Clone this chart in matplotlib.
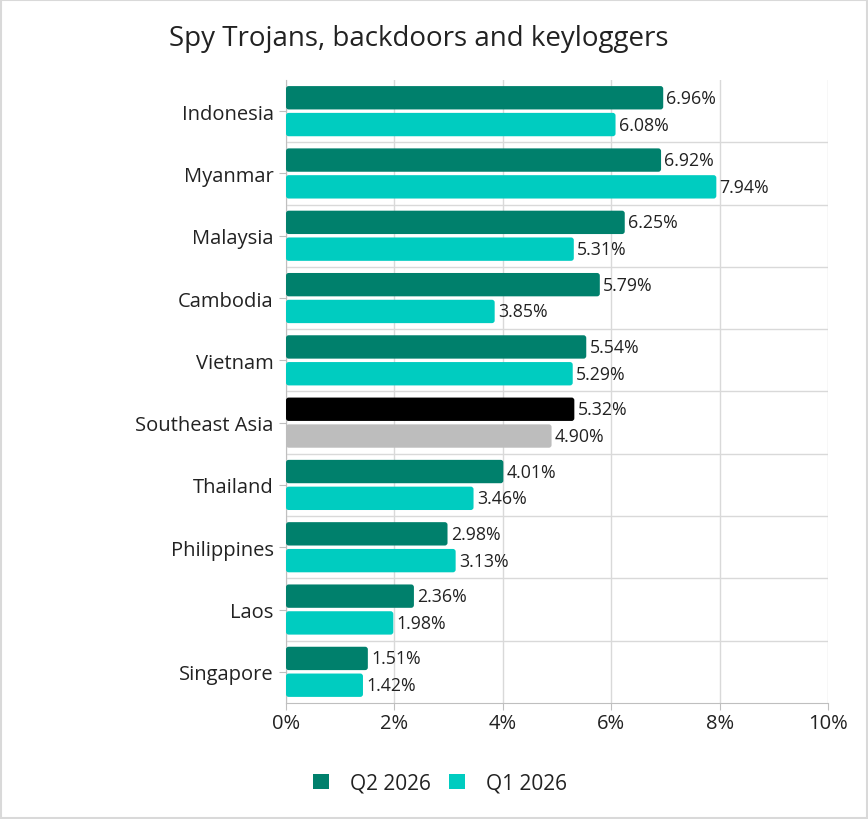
import matplotlib
matplotlib.use("Agg")
import matplotlib.pyplot as plt
from matplotlib.patches import FancyBboxPatch, Patch
import numpy as np

categories = ["Indonesia", "Myanmar", "Malaysia", "Cambodia", "Vietnam",
              "Southeast Asia", "Thailand", "Philippines", "Laos", "Singapore"]
q2_2026 = [6.96, 6.92, 6.25, 5.79, 5.54, 5.32, 4.01, 2.98, 2.36, 1.51]
q1_2026 = [6.08, 7.94, 5.31, 3.85, 5.29, 4.90, 3.46, 3.13, 1.98, 1.42]
series_names = ["Q2 2026", "Q1 2026"]
x_ticks = [0, 2, 4, 6, 8, 10]

C_Q2 = "#00806C"
C_Q1 = "#00CCC0"
C_SEA_Q2 = "#000000"
C_SEA_Q1 = "#BDBDBD"
TXT = "#222222"
GRID = "#D9D9D9"

plt.rcParams['font.family'] = ['Open Sans', 'DejaVu Sans']

fig = plt.figure(figsize=(8.68, 8.2), dpi=100)
ax = fig.add_axes([0.3295, 0.1415, 0.6244, 0.7597])

n = len(categories)
y = np.arange(n)
h = 0.375
off = 0.215

c2 = [C_SEA_Q2 if c == "Southeast Asia" else C_Q2 for c in categories]
c1 = [C_SEA_Q1 if c == "Southeast Asia" else C_Q1 for c in categories]

b2 = ax.barh(y - off, q2_2026, height=h, color=c2, label=series_names[0], zorder=3)
b1 = ax.barh(y + off, q1_2026, height=h, color=c1, label=series_names[1], zorder=3)

ax.set_xlim(0, 10)
ax.set_ylim(n - 0.5, -0.5)

def round_bars(bars):
    for r in bars:
        x0, y0 = r.get_x(), r.get_y()
        w, hh = r.get_width(), r.get_height()
        p = FancyBboxPatch((x0, y0), w, hh,
                           boxstyle="round,pad=0,rounding_size=0.05",
                           mutation_aspect=0.87,
                           facecolor=r.get_facecolor(), edgecolor="none", zorder=3)
        r.set_visible(False)
        ax.add_patch(p)

round_bars(b2)
round_bars(b1)

for yy, v in zip(y - off, q2_2026):
    ax.text(v + 0.06, yy, f"{v:.2f}%", va="center", ha="left", fontsize=12.8, color=TXT, zorder=4)
for yy, v in zip(y + off, q1_2026):
    ax.text(v + 0.06, yy, f"{v:.2f}%", va="center", ha="left", fontsize=12.8, color=TXT, zorder=4)

ax.set_yticks(y)
ax.set_yticklabels(categories, fontsize=14.5, color=TXT)
ax.set_xticks(x_ticks)
ax.set_xticklabels([f"{t}%" for t in x_ticks], fontsize=14.5, color=TXT)
ax.tick_params(axis='y', length=5, color="#BFBFBF", pad=4)
ax.tick_params(axis='x', length=5, color="#BFBFBF", pad=2)

ax.grid(axis='x', color=GRID, linewidth=1, zorder=0)
for b in np.arange(0.5, n - 0.5, 1):
    ax.axhline(b, color=GRID, linewidth=1, zorder=0)

for s in ["top", "right"]:
    ax.spines[s].set_visible(False)
ax.spines["left"].set_color("#BFBFBF")
ax.spines["bottom"].set_color("#BFBFBF")

fig.text(0.482, 0.953, "Spy Trojans, backdoors and keyloggers", ha="center", va="center",
         fontsize=20, color=TXT)

handles = [Patch(facecolor=C_Q2), Patch(facecolor=C_Q1)]
fig.legend(handles, series_names, loc="center", bbox_to_anchor=(0.507, 0.044), ncol=2,
           frameon=False, fontsize=15, handlelength=0.75, handleheight=0.75,
           columnspacing=0.9, handletextpad=1.0, labelcolor=TXT)

fig.patches.append(plt.Rectangle((0.0008, 0.0008), 0.9984, 0.9984, transform=fig.transFigure,
                                 fill=False, edgecolor="#D9D9D9", linewidth=1.5))

fig.savefig("out.png", dpi=100, facecolor="white")
